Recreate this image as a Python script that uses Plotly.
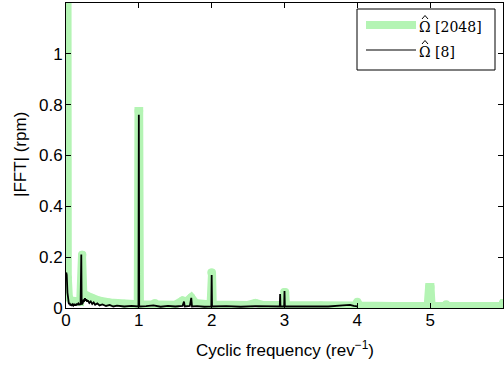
import plotly.graph_objects as go

# Omega-hat [2048] spectrum (cyclic frequency, |FFT|)
freq_2048 = [0.0, 0.02, 0.025, 0.04, 0.07, 0.12, 0.18, 0.195, 0.22, 0.225, 0.24, 0.28, 0.35,
             0.45, 0.6, 0.8, 0.985, 0.995, 1.005, 1.015, 1.2, 1.22, 1.24, 1.5, 1.6, 1.65, 1.72,
             1.78, 1.985, 1.995, 2.005, 2.015, 2.5, 2.6, 2.7, 2.985, 2.995, 3.01, 3.02, 3.5,
             3.97, 4.0, 4.03, 4.5, 4.965, 4.985, 5.005, 5.02, 5.2, 5.22, 5.25, 5.98, 6.0, 6.05]
amp_2048 = [1.6, 1.6, 0.12, 0.04, 0.03, 0.025, 0.025, 0.025, 0.21, 0.21, 0.04, 0.05, 0.04,
            0.03, 0.022, 0.017, 0.015, 0.775, 0.775, 0.015, 0.015, 0.02, 0.013, 0.013, 0.03,
            0.025, 0.042, 0.02, 0.014, 0.14, 0.14, 0.014, 0.012, 0.02, 0.012, 0.012, 0.063,
            0.063, 0.012, 0.01, 0.01, 0.025, 0.01, 0.008, 0.008, 0.083, 0.083, 0.008, 0.008,
            0.015, 0.008, 0.008, 0.02, 0.02]
# Omega-hat [8] spectrum
freq_8 = [0.003, 0.01, 0.02, 0.03, 0.04, 0.05, 0.06, 0.07, 0.08, 0.09, 0.1, 0.11, 0.12, 0.13,
          0.14, 0.15, 0.16, 0.17, 0.18, 0.2, 0.21, 0.215, 0.22, 0.23, 0.24, 0.25, 0.26, 0.27,
          0.28, 0.29, 0.3, 0.32, 0.34, 0.36, 0.38, 0.4, 0.43, 0.46, 0.5, 0.55, 0.6, 0.65, 0.7,
          0.8, 0.9, 0.995, 1.0, 1.005, 1.1, 1.2, 1.3, 1.4, 1.5, 1.6, 1.62, 1.63, 1.7, 1.72,
          1.73, 1.8, 1.9, 1.995, 2.0, 2.005, 2.2, 2.4, 2.6, 2.8, 2.935, 2.94, 2.945, 2.995,
          3.0, 3.005, 3.2, 3.4, 3.6, 3.8, 3.9, 3.95, 4.0]
amp_8 = [0.14, 0.13, 0.06, 0.03, 0.015, 0.02, 0.01, 0.015, 0.008, 0.014, 0.01, 0.016, 0.01,
         0.015, 0.01, 0.017, 0.012, 0.018, 0.014, 0.015, 0.21, 0.02, 0.015, 0.02, 0.03, 0.028,
         0.038, 0.03, 0.034, 0.025, 0.03, 0.02, 0.026, 0.016, 0.022, 0.013, 0.018, 0.01, 0.014,
         0.008, 0.012, 0.006, 0.009, 0.006, 0.008, 0.006, 0.76, 0.006, 0.007, 0.01, 0.005,
         0.008, 0.006, 0.008, 0.025, 0.006, 0.008, 0.04, 0.006, 0.007, 0.005, 0.006, 0.13,
         0.006, 0.007, 0.005, 0.007, 0.006, 0.006, 0.055, 0.006, 0.006, 0.067, 0.006, 0.006,
         0.007, 0.006, 0.01, 0.012, 0.008, 0.006]

x_ticks = [0, 1, 2, 3, 4, 5, 6]
y_ticks = [0, 0.2, 0.4, 0.6, 0.8, 1]
y_tick_labels = ["0", "0.2", "0.4", "0.6", "0.8", "1"]
legend_names = ["\u03A9 [2048]", "\u03A9 [8]"]

GREEN = "#b4f4b4"
SANS = "Liberation Sans, Arial, sans-serif"
SERIF = "DejaVu Serif, serif"
W, H = 504, 365
ML, MR, MT, MB = 66, 1, 3, 57
PW, PH = W - ML - MR, H - MT - MB
GW = 8  # green line width

def px(xp):
    return (xp - ML) / PW

def py(yp):
    return (H - MB - yp) / PH

fig = go.Figure()
fig.add_trace(go.Scatter(x=freq_2048, y=amp_2048, mode="lines+markers", name=legend_names[0],
                         line=dict(color=GREEN, width=GW),
                         marker=dict(color=GREEN, size=GW, line=dict(width=0)),
                         showlegend=False))
fig.add_trace(go.Scatter(x=freq_8, y=amp_8, mode="lines", name=legend_names[1],
                         line=dict(color="black", width=1.8), showlegend=False))

axis_common = dict(showline=True, linecolor="black", linewidth=1, mirror="ticks",
                   ticks="inside", ticklen=5, tickcolor="black", tickwidth=1,
                   showgrid=False, zeroline=False, automargin=False,
                   tickfont=dict(family=SANS, size=17, color="black"))
fig.update_xaxes(range=[0, 6], tickvals=x_ticks, ticktext=[str(v) for v in x_ticks],
                 ticklabelstandoff=-3, **axis_common)
fig.update_yaxes(range=[0, 1.2], tickvals=y_ticks, ticktext=y_tick_labels,
                 ticklabelstandoff=-1, **axis_common)

def hat(cx, cy):
    return dict(type="path", xref="paper", yref="paper",
                path=f"M {px(cx - 3)} {py(cy + 2)} L {px(cx)} {py(cy - 1.5)} L {px(cx + 3)} {py(cy + 2)}",
                line=dict(color="black", width=1), layer="above")

# legend box drawn manually
shapes = [
    dict(type="rect", xref="paper", yref="paper", x0=px(357), x1=px(495), y0=py(70), y1=py(9),
         line=dict(color="black", width=1), fillcolor="white", layer="above"),
    dict(type="line", xref="paper", yref="paper", x0=px(366), x1=px(416), y0=py(25), y1=py(25),
         line=dict(color=GREEN, width=GW), layer="above"),
    dict(type="line", xref="paper", yref="paper", x0=px(366), x1=px(416), y0=py(50), y1=py(50),
         line=dict(color="black", width=1.2), layer="above"),
    hat(425, 17),
    hat(425, 42),
]
leg_font = dict(family=SERIF, size=14, color="black")
annotations = [
    dict(text=legend_names[0], xref="paper", yref="paper", x=px(417), y=py(27), xanchor="left",
         yanchor="middle", showarrow=False, font=leg_font),
    dict(text=legend_names[1], xref="paper", yref="paper", x=px(417), y=py(52), xanchor="left",
         yanchor="middle", showarrow=False, font=leg_font),
    dict(text="Cyclic frequency (rev<sup>\u22121</sup>)", xref="paper", yref="paper", x=px(285), y=py(349),
         xanchor="center", yanchor="middle", showarrow=False,
         font=dict(family=SANS, size=17, color="black")),
    dict(text="|FFT| (rpm)", xref="paper", yref="paper", x=px(20), y=py(155), textangle=-90,
         xanchor="center", yanchor="middle", showarrow=False,
         font=dict(family=SANS, size=17, color="black")),
]

fig.update_layout(width=W, height=H, margin=dict(l=ML, r=MR, t=MT, b=MB, pad=0),
                  paper_bgcolor="white", plot_bgcolor="white",
                  shapes=shapes, annotations=annotations, showlegend=False)

fig.write_html("out.html", config={"displayModeBar": False},
               post_script="document.body.style.margin='0';document.body.style.padding='0';")
